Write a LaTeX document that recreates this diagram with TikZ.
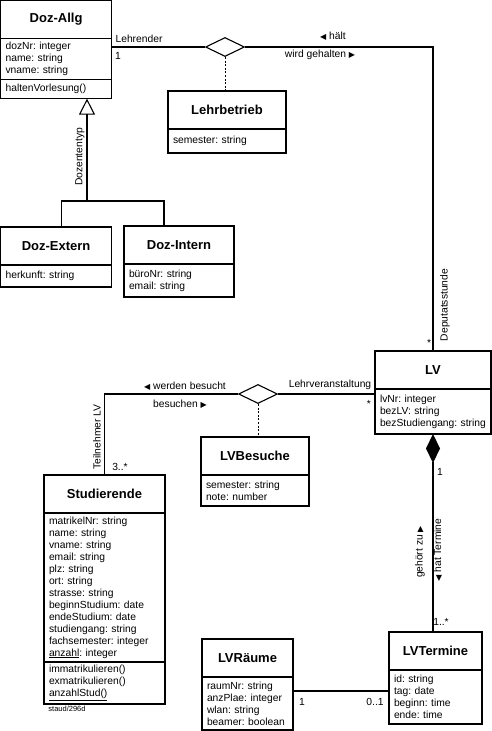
\documentclass[tikz,border=0pt]{standalone}
\usepackage{fontspec}
\setmainfont{Liberation Sans}
\newfontfamily\symb{DejaVu Sans}
\usetikzlibrary{positioning,arrows.meta,shapes.geometric}
\frenchspacing
\newcommand{\lft}{{\symb\fontsize{8}{8}\selectfont ◀}}
\newcommand{\rgt}{{\symb\fontsize{8}{8}\selectfont ▶}}

\begin{document}
\begin{tikzpicture}[x=1pt, y=-1pt, line width=1.1pt, font=\fontsize{10.3}{12}\selectfont,
	titel/.style={draw, anchor=north west, minimum width=#1, minimum height=38pt, inner sep=0pt, outer sep=0pt, font=\bfseries\fontsize{13}{15}\selectfont},
	attr/.style 2 args={draw, text width=#1, minimum height=#2, align=left, inner xsep=5pt, inner ysep=0pt, outer sep=0pt},
	raute/.style={draw, shape=diamond, aspect=2, minimum width=39pt, minimum height=19pt, inner sep=0pt, fill=white},
	lbl/.style={inner sep=1pt},
	gestrichelt/.style={line width=0.9pt, dash pattern=on 2pt off 1.6pt}]
	\useasboundingbox (0,0) rectangle (492,731);
	% Klassen
	\node[titel=111pt] (dozallg) at (0.6,0.6) {Doz-Allg};
	\node[attr={101pt}{41pt}, below=0pt of dozallg] (dozallg-a) {dozNr: integer\\name: string\\vname: string};
	\node[attr={101pt}{19pt}, below=0pt of dozallg-a] (dozallg-o) {haltenVorlesung()};
	\node[titel=118pt] (lehrbetrieb) at (168,91) {Lehrbetrieb};
	\node[attr={108pt}{24pt}, below=0pt of lehrbetrieb] (lehrbetrieb-a) {semester: string};
	\node[titel=111pt] (dozextern) at (0.6,227) {Doz-Extern};
	\node[attr={101pt}{22pt}, below=0pt of dozextern] (dozextern-a) {herkunft: string};
	\node[titel=110pt] (dozintern) at (124,226) {Doz-Intern};
	\node[attr={100pt}{33pt}, below=0pt of dozintern] (dozintern-a) {büroNr: string\\email: string};
	\node[titel=116pt] (lv) at (375,351) {LV};
	\node[attr={106pt}{45pt}, below=0pt of lv] (lv-a) {lvNr: integer\\bezLV: string\\bezStudiengang:~string};
	\node[titel=108pt] (lvbesuche) at (201,437) {LVBesuche};
	\node[attr={98pt}{31pt}, below=0pt of lvbesuche] (lvbesuche-a) {semester: string\\note: number};
	\node[titel=121pt] (studierende) at (44,475) {Studierende};
	\node[attr={111pt}{149pt}, below=0pt of studierende] (studierende-a) {matrikelNr: string\\name: string\\vname: string\\email: string\\plz: string\\ort: string\\strasse: string\\beginnStudium: date\\endeStudium: date\\studiengang: string\\fachsemester:~integer\\\underline{anzahl}: integer};
	\node[attr={111pt}{42pt}, below=0pt of studierende-a] (studierende-o) {immatrikulieren()\\exmatrikulieren()\\\underline{anzahlStud()}};
	\node[titel=91pt] (lvraeume) at (202,639) {LVRäume};
	\node[attr={81pt}{53pt}, below=0pt of lvraeume] (lvraeume-a) {raumNr: string\\anzPlae: integer\\wlan: string\\beamer:~boolean};
	\node[titel=93pt] (lvtermine) at (389,632) {LVTermine};
	\node[attr={83pt}{54pt}, below=0pt of lvtermine] (lvtermine-a) {id: string\\tag: date\\beginn: time\\ende: time};
	\node[lbl, font=\fontsize{7.5}{9}\selectfont] (kuerzel) at (67,709) {staud/296d};
	% Assoziationen
	\node[raute] (d1) at (225,47) {};
	\node[raute] (d2) at (258,394) {};
	\coordinate (gabel) at (87,201);
	\draw (d1.west) -- (d1.west -| dozallg-a.east);
	\draw (d1.east) -| (lv.north);
	\draw[gestrichelt] (d1.south) -- (d1.south |- lehrbetrieb.north);
	\draw[-{Triangle[open,length=16pt,width=16pt]}] (gabel) -- (gabel |- dozallg-o.south);
	\draw ([xshift=5pt]dozextern.north) |- (gabel) -| ([xshift=-15pt]dozintern.north);
	\draw (d2.east) -- (d2.east -| lv-a.west);
	\draw (d2.west) -| (studierende.north);
	\draw[gestrichelt] (d2.south) -- (d2.south |- lvbesuche.north);
	\draw[{Diamond[length=29pt,width=14pt]}-] (lv-a.south) -- (lv-a.south |- lvtermine.north);
	\coordinate (r1) at ([yshift=12.5pt]lvraeume-a.east);
	\draw (r1) -- (r1 -| lvtermine-a.west);
	% Rollen, Multiplizitaeten, Leserichtungen
	\node[lbl, anchor=west] (rolle-lehrender) at (114,39) {Lehrender};
	\node[lbl] (mult-doz) at (118,56) {1};
	\node[lbl] (lr-haelt) at (333,36) {\lft\ hält};
	\node[lbl] (lr-gehalten) at (320,55) {wird gehalten \rgt};
	\node[lbl, rotate=90] (diskriminator) at (80,157) {Dozententyp};
	\node[lbl, rotate=90] (rolle-deputat) at (445,305) {Deputatsstunde};
	\node[lbl] (mult-lv1) at (429,343) {*};
	\node[lbl] (rolle-lv) at (330,385) {Lehrveranstaltung};
	\node[lbl] (mult-lv2) at (369,404) {*};
	\node[lbl] (lr-besucht) at (185,386) {\lft\ werden besucht};
	\node[lbl] (lr-besuchen) at (180,404) {besuchen \rgt};
	\node[lbl, rotate=90] (rolle-teiln) at (97,437) {Teilnehmer LV};
	\node[lbl] (mult-stud) at (120,467) {3..*};
	\node[lbl] (mult-lv3) at (440,472) {1};
	\node[lbl, rotate=90] (lr-gehoert) at (420,552) {gehört zu \rgt};
	\node[lbl, rotate=90] (lr-termine) at (438,550) {\lft\ hat Termine};
	\node[lbl] (mult-termine) at (441,622) {1..*};
	\node[lbl] (mult-raum) at (302,702) {1};
	\node[lbl] (mult-termin) at (375,702) {0..1};
\end{tikzpicture}
\end{document}
